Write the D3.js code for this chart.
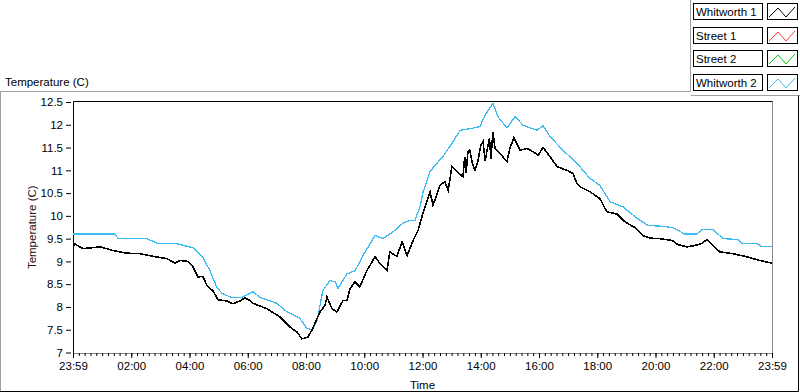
<!DOCTYPE html>
<html>
<head>
<meta charset="utf-8">
<script src="https://cdn.jsdelivr.net/npm/d3@7"></script>
<style>
  body { margin: 0; background: #fff; }
  svg { display: block; font-family: "Liberation Sans", Arial, sans-serif; }
</style>
</head>
<body>
<div class="chart-container"></div>
<script>
// Series data: hours after 23:59 and temperature (C)
const w1Hours = [0, 0.07, 0.34, 0.93, 1.37, 1.85, 2.30, 2.75, 3.23, 3.50, 3.67, 3.95, 4.12, 4.29, 4.46, 4.60, 4.81, 4.98, 5.29, 5.49, 5.73, 5.91, 6.08, 6.18, 6.66, 7.11, 7.45, 7.69, 7.86, 8.07, 8.21, 8.48, 8.65, 8.72, 8.89, 9.06, 9.27, 9.41, 9.51, 9.68, 9.85, 10.09, 10.27, 10.37, 10.54, 10.78, 10.88, 11.12, 11.30, 11.47, 11.67, 11.85, 11.98, 12.26, 12.36, 12.60, 12.77, 12.88, 13.01, 13.18, 13.39, 13.45, 13.5, 13.56, 13.62, 13.73, 13.8, 13.91, 14.0, 14.08, 14.15, 14.25, 14.3, 14.35, 14.42, 14.49, 14.66, 14.90, 15.0, 15.14, 15.35, 15.59, 15.79, 15.97, 16.14, 16.38, 16.62, 16.96, 17.17, 17.30, 17.41, 17.75, 18.09, 18.33, 18.68, 18.95, 19.30, 19.57, 19.81, 20.15, 20.57, 20.77, 21.08, 21.36, 21.60, 21.77, 21.97, 22.21, 22.66, 23.14, 23.59, 24];
const w1Temps = [9.32, 9.38, 9.28, 9.32, 9.24, 9.18, 9.17, 9.11, 9.06, 8.96, 9.02, 9.0, 8.88, 8.66, 8.67, 8.47, 8.35, 8.16, 8.13, 8.07, 8.13, 8.2, 8.14, 8.08, 7.96, 7.78, 7.56, 7.45, 7.3, 7.34, 7.5, 7.89, 8.03, 8.22, 7.96, 7.89, 8.14, 8.14, 8.4, 8.55, 8.44, 8.8, 8.99, 9.11, 8.95, 8.8, 9.21, 9.11, 9.43, 9.13, 9.45, 9.68, 9.98, 10.53, 10.23, 10.67, 10.75, 10.56, 11.08, 10.97, 10.86, 11.3, 10.95, 11.41, 11.45, 11.11, 11.0, 11.22, 11.55, 11.63, 11.2, 11.55, 11.7, 11.25, 11.85, 11.48, 11.37, 11.19, 11.48, 11.72, 11.44, 11.48, 11.41, 11.33, 11.5, 11.3, 11.08, 11.0, 10.93, 10.71, 10.64, 10.53, 10.38, 10.09, 10.04, 9.87, 9.74, 9.57, 9.51, 9.5, 9.46, 9.37, 9.32, 9.35, 9.4, 9.48, 9.35, 9.21, 9.17, 9.1, 9.02, 8.96];

const w2Hours = [0, 1.44, 1.55, 2.54, 2.88, 3.50, 4.12, 4.46, 4.70, 4.94, 5.12, 5.46, 5.77, 6.08, 6.18, 6.42, 7.00, 7.35, 7.79, 8.03, 8.21, 8.38, 8.58, 8.82, 9.0, 9.10, 9.41, 9.68, 9.96, 10.37, 10.64, 10.99, 11.33, 11.57, 11.74, 11.91, 12.02, 12.26, 12.43, 12.70, 13.05, 13.29, 13.70, 13.97, 14.15, 14.42, 14.59, 14.90, 15.18, 15.45, 15.93, 16.14, 16.38, 16.82, 17.30, 17.75, 18.09, 18.44, 18.88, 19.36, 19.74, 20.26, 20.60, 21.01, 21.42, 21.60, 21.97, 22.32, 22.83, 22.97, 23.48, 23.66, 24];
const w2Temps = [9.6, 9.6, 9.5, 9.5, 9.4, 9.4, 9.3, 9.09, 8.8, 8.43, 8.3, 8.2, 8.2, 8.3, 8.33, 8.21, 8.08, 7.89, 7.75, 7.53, 7.5, 7.7, 8.36, 8.58, 8.55, 8.41, 8.73, 8.79, 9.13, 9.57, 9.5, 9.65, 9.84, 9.9, 9.9, 10.19, 10.53, 10.97, 11.11, 11.3, 11.63, 11.88, 11.92, 11.96, 12.21, 12.47, 12.18, 11.93, 12.18, 11.99, 11.88, 11.98, 11.74, 11.44, 11.16, 10.82, 10.67, 10.31, 10.2, 9.95, 9.79, 9.77, 9.74, 9.6, 9.6, 9.7, 9.7, 9.5, 9.48, 9.39, 9.39, 9.32, 9.32];

const yTicks = [7, 7.5, 8, 8.5, 9, 9.5, 10, 10.5, 11, 11.5, 12, 12.5];
const xTickHours = [0, 2, 4, 6, 8, 10, 12, 14, 16, 18, 20, 22, 24];
const xTickLabels = ["23:59", "02:00", "04:00", "06:00", "08:00", "10:00", "12:00", "14:00", "16:00", "18:00", "20:00", "22:00", "23:59"];

const legendNames = ["Whitworth 1", "Street 1", "Street 2", "Whitworth 2"];
const legendColors = ["#000000", "#ff3c3c", "#00d200", "#3cbcf5"];

function draw() {
    const width = 800;
    const height = 392;
    const plotLeft = 73;
    const plotRight = 772;
    const plotTop = 101.5;
    const plotBottom = 353;

    const x = d3.scaleLinear().domain([0, 24]).range([plotLeft, plotRight]);
    const y = d3.scaleLinear().domain([7, 12.5]).range([352.5, 102]);

    const svg = d3.select('.chart-container').append("svg")
        .attr("width", width)
        .attr("height", height);

    // outer panel frame
    const frame = svg.append("g").attr("fill", "none");
    frame.append("path").attr("d", "M0.5,392 V91.5 H690.5 V0").attr("stroke", "#a0a0a0");
    frame.append("path").attr("d", "M690.5,95.5 H800").attr("stroke", "#a0a0a0");
    frame.append("path").attr("d", "M0,391.5 H798.5 V95.5").attr("stroke", "#000");

    // title
    svg.append("text")
        .attr("x", 5).attr("y", 86)
        .style("font-size", "11.5px")
        .attr("fill", "#000")
        .text("Temperature (C)");

    // plot box
    svg.append("path")
        .attr("d", `M${plotRight + 0.5},${plotTop} V${plotBottom}`)
        .attr("stroke", "#8a8a8a").attr("fill", "none");
    svg.append("path")
        .attr("d", `M${plotLeft + 0.5},${plotBottom} V${plotTop} H${plotRight + 0.5}`)
        .attr("stroke", "#000").attr("fill", "none");

    // y axis
    const yAxis = svg.append("g")
        .attr("transform", `translate(${plotLeft - 2},0)`)
        .call(d3.axisLeft(y).tickValues(yTicks).tickSize(5).tickPadding(3)
            .tickFormat(d => d3.format("")(d)));
    yAxis.select(".domain").remove();
    yAxis.selectAll("text").style("font-size", "11.5px").style("font-family", "Liberation Sans, Arial, sans-serif").attr("fill", "#000");

    // x axis minor ticks
    const xMinor = svg.append("g")
        .attr("transform", `translate(0,${plotBottom})`)
        .call(d3.axisBottom(x).tickValues(d3.range(0, 24.001, 0.2)).tickSize(3).tickFormat(""));
    xMinor.select(".domain").attr("stroke", "#8a8a8a");

    // x axis major ticks
    const xAxis = svg.append("g")
        .attr("transform", `translate(0,${plotBottom})`)
        .call(d3.axisBottom(x).tickValues(xTickHours).tickSize(5).tickPadding(4)
            .tickFormat((d, i) => xTickLabels[i]));
    xAxis.select(".domain").remove();
    xAxis.selectAll("text").style("font-size", "11.5px").style("font-family", "Liberation Sans, Arial, sans-serif").attr("fill", "#000");

    // axis titles
    svg.append("text")
        .attr("x", (plotLeft + plotRight) / 2).attr("y", 389)
        .attr("text-anchor", "middle")
        .style("font-size", "11.5px")
        .attr("fill", "#000")
        .text("Time");

    svg.append("text")
        .attr("transform", `translate(36,${(plotTop + plotBottom) / 2}) rotate(-90)`)
        .attr("text-anchor", "middle")
        .style("font-size", "11.5px")
        .attr("fill", "#2a1010")
        .text("Temperature (C)");

    // lines
    const line = d3.line()
        .x(d => x(d[0]))
        .y(d => y(d[1]));

    const w2 = d3.zip(w2Hours, w2Temps);
    const w1 = d3.zip(w1Hours, w1Temps);

    svg.append("path")
        .datum(w2)
        .attr("fill", "none")
        .attr("stroke", legendColors[3])
        .attr("stroke-width", 1.3)
        .attr("shape-rendering", "crispEdges")
        .attr("d", line);

    svg.append("path")
        .datum(w1)
        .attr("fill", "none")
        .attr("stroke", legendColors[0])
        .attr("stroke-width", 1.6)
        .attr("shape-rendering", "crispEdges")
        .attr("d", line);

    // legend
    const legend = svg.append("g").attr("id", "legend");
    const rowY = [3, 27, 50, 74];

    legendNames.forEach((name, i) => {
        const ry = rowY[i];
        legend.append("rect")
            .attr("x", 693.5).attr("y", ry + 0.5)
            .attr("width", 69).attr("height", 16)
            .attr("fill", "#fff").attr("stroke", "#000");
        legend.append("text")
            .attr("x", 696).attr("y", ry + 13)
            .style("font-size", "11.5px")
            .attr("fill", "#000")
            .text(name);
        legend.append("rect")
            .attr("x", 767.5).attr("y", ry + 0.5)
            .attr("width", 30).attr("height", 16)
            .attr("fill", "#fff").attr("stroke", "#000");
        legend.append("path")
            .attr("d", `M769,${ry + 14} L778,${ry + 5} L786,${ry + 14} L795,${ry + 4}`)
            .attr("fill", "none")
            .attr("stroke", legendColors[i]);
    });
}

draw();
</script>
</body>
</html>
